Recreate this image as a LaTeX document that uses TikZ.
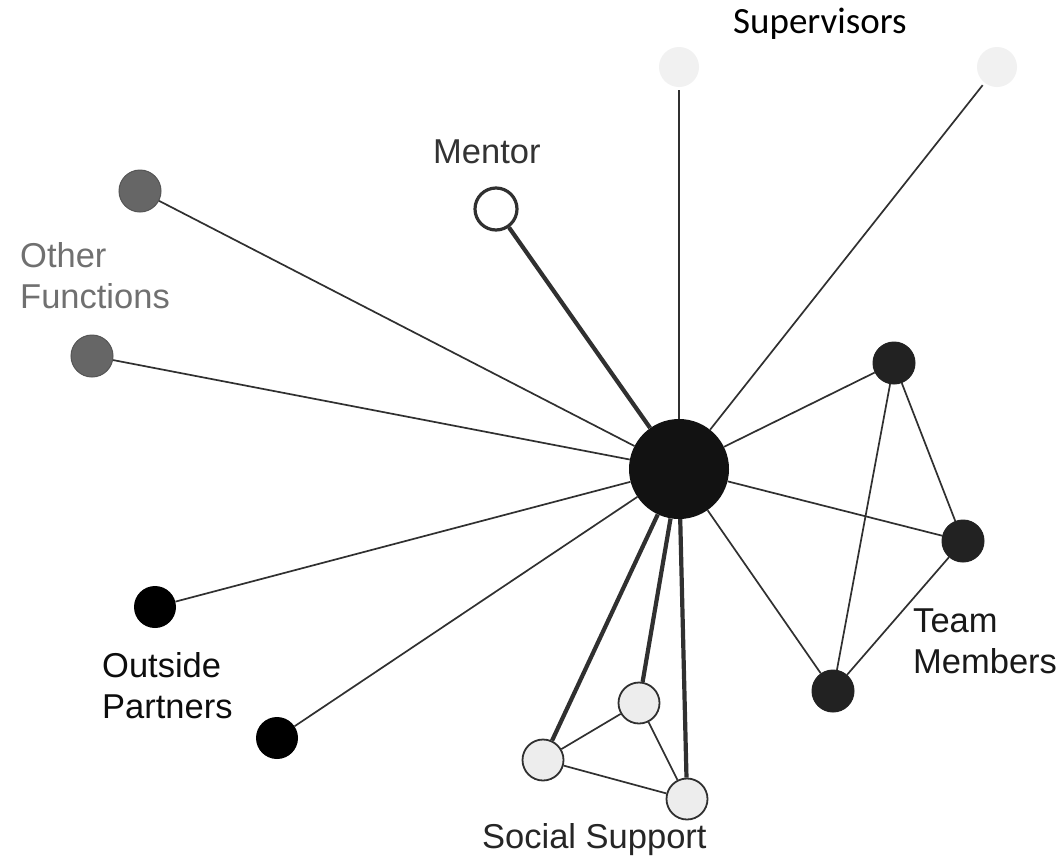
\documentclass[tikz,border=0pt]{standalone}
\usepackage{fontspec}
\setmainfont{Liberation Sans}
\newfontfamily\calib{Carlito}
\definecolor{edgecol}{HTML}{303030}
\definecolor{supgrey}{HTML}{F1F1F1}
\definecolor{ofgrey}{HTML}{666666}
\definecolor{ofedge}{HTML}{555555}
\definecolor{tmcol}{HTML}{222222}
\definecolor{sscol}{HTML}{EDEDED}
\definecolor{ofText}{HTML}{707070}
\begin{document}
\begin{tikzpicture}[x=1pt,y=-1pt,
  dot/.style={circle,inner sep=0pt,minimum size=42pt},
  supnode/.style={dot,fill=supgrey,minimum size=40pt},
  ofnode/.style={dot,fill=ofgrey,draw=ofedge,line width=1pt},
  opnode/.style={dot,fill=black},
  tmnode/.style={dot,fill=tmcol,draw=tmcol,line width=1pt},
  ssnode/.style={dot,fill=sscol,draw=edgecol,line width=1.8pt,minimum size=41pt},
  mentornode/.style={dot,fill=white,draw=edgecol,line width=3.2pt,minimum size=42pt},
  centernode/.style={dot,fill=black!93,minimum size=100pt},
  thinedge/.style={draw=edgecol,line width=1.7pt},
  thickedge/.style={draw=edgecol,line width=4.2pt},
  lbl/.style={font=\fontsize{34.5}{41}\selectfont,align=left,anchor=base west,inner sep=0pt}
]
\useasboundingbox[fill=white] (0,0) rectangle (1064,860);

% nodes
\node[centernode] (c) at (679,469) {};
\node[supnode] (s1) at (679,67) {};
\node[supnode] (s2) at (997,67) {};
\node[mentornode] (m) at (496,209) {};
\node[ofnode] (of1) at (140,191) {};
\node[ofnode] (of2) at (92,356) {};
\node[opnode] (op1) at (155,607) {};
\node[opnode] (op2) at (277,738) {};
\node[tmnode] (tm1) at (894,363) {};
\node[tmnode] (tm2) at (963,541) {};
\node[tmnode] (tm3) at (833,691) {};
\node[ssnode] (ss1) at (639,703) {};
\node[ssnode] (ss2) at (543,760) {};
\node[ssnode] (ss3) at (687,799) {};

% labels (base anchor = baseline of last line)
\node[lbl,font=\calib\fontsize{37}{44}\selectfont] (lsup) at (733,33) {Supervisors};
\node[lbl,text=black!80] (lmentor) at (433,163) {Mentor};
\node[lbl,text=ofText] (lof) at (20,308) {Other\\Functions};
\node[lbl,text=black!95] (lop) at (102,718) {Outside\\Partners};
\node[lbl,text=black!90] (ltm) at (913,673) {Team\\Members};
\node[lbl,text=black!85] (lss) at (482,848) {Social Support};

% edges from center
\draw[thinedge,shorten >=3pt] (c) -- (s1);
\draw[thinedge,shorten >=3pt] (c) -- (s2);
\draw[thickedge] (c) -- (m);
\draw[thinedge] (c) -- (of1);
\draw[thinedge] (c) -- (of2);
\draw[thinedge] (c) -- (op1);
\draw[thinedge] (c) -- (op2);
\draw[thinedge] (c) -- (tm1);
\draw[thinedge] (c) -- (tm2);
\draw[thinedge] (c) -- (tm3);
\draw[thickedge] (c) -- (ss1);
\draw[thickedge] (c) -- (ss2);
\draw[thickedge] (c) -- (ss3);

% team edges
\draw[thinedge] (tm1) -- (tm2);
\draw[thinedge] (tm1) -- (tm3);
\draw[thinedge] (tm2) -- (tm3);

% social support edges
\draw[thinedge] (ss1) -- (ss2);
\draw[thinedge] (ss1) -- (ss3);
\draw[thinedge] (ss2) -- (ss3);
\end{tikzpicture}
\end{document}
